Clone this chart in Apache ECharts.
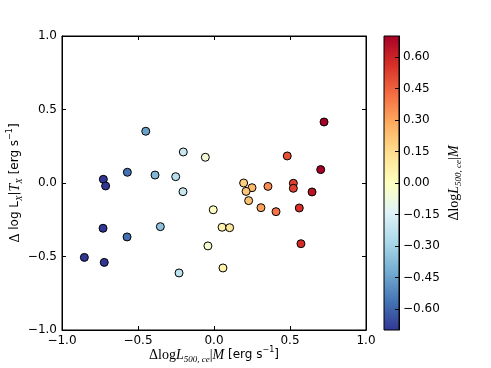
<!DOCTYPE html>
<html><head><meta charset="utf-8">
<script src="https://cdn.jsdelivr.net/npm/echarts@6/dist/echarts.min.js"></script>
<style>html,body{margin:0;padding:0;background:#fff}#c{width:491px;height:368px}</style>
</head><body><div id="c"></div>
<script>
// Δlog L500,ce|M (x, also the colour value)
const xValues = [-0.449, -0.202, -0.057, -0.570, -0.388, -0.252, -0.728, -0.713, -0.204, -0.005,
  -0.730, -0.353, -0.572, -0.040, -0.853, -0.722, -0.230,
  0.724, 0.482, 0.702, 0.195, 0.522, 0.250, 0.355, 0.522, 0.211, 0.645, 0.228, 0.309, 0.408,
  0.561, 0.053, 0.103, 0.572, 0.059];
// Δ log Lx|Tx
const yValues = [0.352, 0.211, 0.175, 0.073, 0.054, 0.043, 0.025, -0.020, -0.059, -0.182,
  -0.308, -0.297, -0.367, -0.428, -0.506, -0.540, -0.612,
  0.415, 0.184, 0.091, 0.000, -0.002, -0.032, -0.023, -0.036, -0.057, -0.061, -0.120, -0.168, -0.195,
  -0.170, -0.301, -0.304, -0.413, -0.578];
const axisTicks = [-1.0, -0.5, 0.0, 0.5, 1.0];
const colorbarTicks = [-0.60, -0.45, -0.30, -0.15, 0.00, 0.15, 0.30, 0.45, 0.60];
const colorRange = [-0.70, 0.70];
const cmapColors = ['#313695', '#4575b4', '#74add1', '#abd9e9', '#e0f3f8', '#ffffbf',
  '#fee090', '#fdae61', '#f46d43', '#d73027', '#a50026'];

const data = xValues.map((x, i) => [x, yValues[i]]);
const minus = s => s.replace('-', '\u2212');
const tickFont = {fontFamily: 'DejaVu Sans', fontSize: 12, color: '#000'};
const serif = 'Liberation Serif';
const rich = {
  a: {fontFamily: serif, fontSize: 14, color: '#000', lineHeight: 18},
  i: {fontFamily: serif, fontStyle: 'italic', fontSize: 14, color: '#000', lineHeight: 18},
  s: {fontFamily: serif, fontStyle: 'italic', fontSize: 9, color: '#000', lineHeight: 18, verticalAlign: 'bottom'},
  c: {fontFamily: 'DejaVu Sans', fontSize: 12, color: '#000', lineHeight: 18},
  p: {fontFamily: 'DejaVu Sans', fontSize: 8, color: '#000', lineHeight: 18, verticalAlign: 'top'}
};

const chart = echarts.init(document.getElementById('c'), null, {renderer: 'canvas'});
const gradStops = cmapColors.map((c, i) => ({offset: i / (cmapColors.length - 1), color: c}));
const lineStyle = {color: '#000', width: 1};
const baseAxis = {
  type: 'value', min: axisTicks[0], max: axisTicks[axisTicks.length - 1], interval: 0.5,
  axisLine: {show: true, onZero: false, lineStyle},
  axisTick: {inside: true, length: 4, lineStyle},
  splitLine: {show: false}
};
const option = {
  animation: false,
  backgroundColor: '#fff',
  grid: [
    {left: 62, top: 36, width: 304, height: 294, outerBoundsMode: 'none', containLabel: false,
     show: true, borderColor: '#000', borderWidth: 1, backgroundColor: 'transparent'},
    {left: 384, top: 36, width: 15, height: 294, outerBoundsMode: 'none', containLabel: false,
     show: true, borderColor: '#000', borderWidth: 1,
     backgroundColor: new echarts.graphic.LinearGradient(0, 1, 0, 0, gradStops)}
  ],
  visualMap: [{show: false, type: 'continuous', dimension: 0, seriesIndex: 0,
    min: colorRange[0], max: colorRange[1], inRange: {color: cmapColors}}],
  xAxis: [
    Object.assign({}, baseAxis, {gridIndex: 0, position: 'bottom',
     axisLabel: Object.assign({margin: 5, formatter: v => minus(v.toFixed(1))}, tickFont),
     name: '{a|Δlog}{i|L}{s|500, ce}{a||}{i|M}{c| [erg s}{p|−1}{c|]}',
     nameLocation: 'middle', nameGap: 16, nameMoveOverlap: false, nameTextStyle: {rich}}),
    Object.assign({}, baseAxis, {gridIndex: 0, position: 'top', axisLabel: {show: false}}),
    {gridIndex: 1, type: 'value', min: 0, max: 1, show: false}
  ],
  yAxis: [
    Object.assign({}, baseAxis, {gridIndex: 0, position: 'left',
     axisLabel: Object.assign({margin: 5, formatter: v => minus(v.toFixed(1))}, tickFont),
     name: '{a|Δ}{c| log L}{s|X}{c||}{i|T}{s|X}{c| [erg s}{p|−1}{c|]}',
     nameLocation: 'middle', nameRotate: 90, nameGap: 38, nameMoveOverlap: false, nameTextStyle: {rich}}),
    Object.assign({}, baseAxis, {gridIndex: 0, position: 'right', axisLabel: {show: false}}),
    {gridIndex: 1, type: 'value', min: colorRange[0], max: colorRange[1], position: 'right',
     axisLine: {show: true, onZero: false, lineStyle},
     axisTick: {inside: true, length: 4, lineStyle, customValues: colorbarTicks},
     axisLabel: Object.assign({margin: 4, customValues: colorbarTicks, formatter: v => minus(v.toFixed(2))}, tickFont),
     splitLine: {show: false},
     name: '{a|Δlog}{i|L}{s|500, ce}{a||}{i|M}',
     nameLocation: 'middle', nameRotate: 90, nameGap: 46, nameMoveOverlap: false, nameTextStyle: {rich}}
  ],
  series: [{
    type: 'scatter', xAxisIndex: 0, yAxisIndex: 0, data,
    symbol: 'circle', symbolSize: 8,
    itemStyle: {borderColor: '#000', borderWidth: 1, opacity: 1}
  }]
};
chart.setOption(option);
</script>
</body></html>
